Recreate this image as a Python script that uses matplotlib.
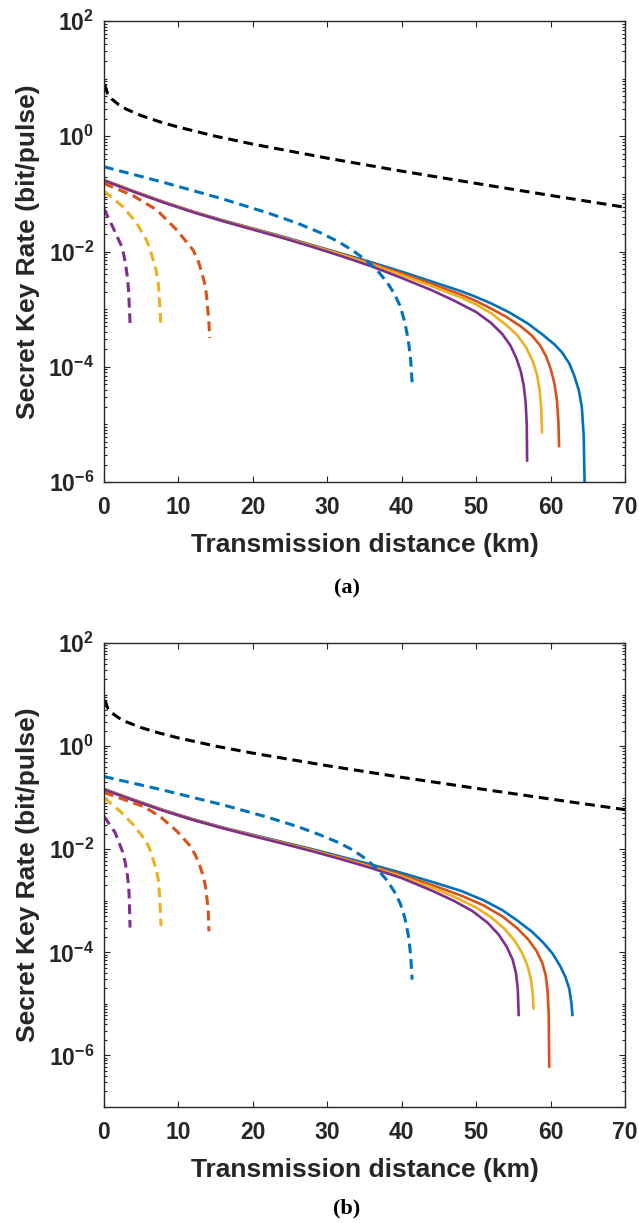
import numpy as np
import matplotlib
matplotlib.use("Agg")
from matplotlib import pyplot as plt
from matplotlib.ticker import FixedLocator, LogLocator, NullFormatter

plt.rcParams["font.family"] = ["Liberation Sans", "DejaVu Sans"]
plt.rcParams["font.weight"] = "bold"
plt.rcParams["mathtext.fontset"] = "custom"
plt.rcParams["mathtext.rm"] = "Liberation Sans:bold"
plt.rcParams["mathtext.bf"] = "Liberation Sans:bold"
plt.rcParams["mathtext.it"] = "Liberation Sans:bold:italic"

BLUE, ORANGE, YELLOW, PURPLE = "#0072BD", "#D95319", "#EDB120", "#7E2F8E"
COLORS = [BLUE, ORANGE, YELLOW, PURPLE]

# ---- data: distance (km), log10 of key rate (bit/pulse) ----
bound_x = [0.1, 0.5, 1, 2, 3, 5, 7.5, 10, 15, 20, 30, 40, 50, 60, 70]
bound_y = [7.8, 5.44, 4.47, 3.51, 2.95, 2.28, 1.78, 1.44, 1.00, 0.73, 0.417, 0.248, 0.152, 0.094, 0.0586]

# panel (a)
a_solid = [
    ([0, 4, 8, 12, 16, 20, 24, 28, 32, 36, 40, 44, 48, 50, 52, 54.5, 57, 59, 60.5, 61.5,
      62.5, 63.2, 63.8, 64.2, 64.45, 64.6],
     [-0.76, -0.955, -1.14, -1.31, -1.46, -1.60, -1.74, -1.89, -2.04, -2.19, -2.35, -2.52, -2.69,
      -2.79, -2.90, -3.06, -3.255, -3.45, -3.61, -3.745, -3.94, -4.16, -4.41, -4.70, -5.20, -6.20]),
    ([0, 4, 8, 12, 16, 20, 24, 28, 32, 36, 40, 44, 48, 50, 52, 54, 56, 57.5, 58.6, 59.4,
      60.0, 60.5, 60.85, 61.05, 61.15],
     [-0.76, -0.955, -1.14, -1.31, -1.465, -1.605, -1.75, -1.90, -2.05, -2.21, -2.38, -2.56, -2.75,
      -2.86, -2.99, -3.13, -3.30, -3.46, -3.63, -3.82, -4.03, -4.28, -4.58, -4.95, -5.40]),
    ([0, 4, 8, 12, 16, 20, 24, 28, 32, 36, 40, 44, 48, 50, 52, 54, 55.5, 56.7, 57.6, 58.2,
      58.55, 58.75, 58.85],
     [-0.765, -0.96, -1.145, -1.315, -1.47, -1.61, -1.755, -1.905, -2.06, -2.23, -2.41, -2.60, -2.80,
      -2.92, -3.07, -3.27, -3.45, -3.66, -3.90, -4.15, -4.42, -4.75, -5.16]),
    ([0, 4, 8, 12, 16, 20, 24, 28, 32, 36, 40, 44, 47, 50, 52, 53.5, 54.6, 55.4, 56.0, 56.4,
      56.65, 56.8, 56.85],
     [-0.77, -0.965, -1.15, -1.32, -1.475, -1.62, -1.765, -1.92, -2.085, -2.26, -2.46, -2.67, -2.85,
      -3.05, -3.24, -3.43, -3.63, -3.85, -4.08, -4.33, -4.62, -5.00, -5.65]),
]
a_dashed = [
    ([0, 8, 16, 22, 26, 29, 31.5, 33.5, 35.3, 36.8, 38.0, 39.0, 39.8, 40.4, 40.9, 41.2, 41.4],
     [-0.53, -0.80, -1.09, -1.33, -1.51, -1.67, -1.83, -1.99, -2.16, -2.34, -2.53, -2.73, -2.95,
      -3.22, -3.55, -3.88, -4.28]),
    ([0, 3.9, 7.1, 9.8, 12.0, 12.7, 13.3, 13.6, 13.8, 14.1, 14.2],
     [-0.82, -1.03, -1.28, -1.63, -1.98, -2.18, -2.44, -2.60, -2.79, -3.24, -3.50]),
    ([0, 2.6, 4.4, 5.7, 6.2, 6.6, 7.0, 7.3, 7.5, 7.66],
     [-0.95, -1.23, -1.51, -1.80, -1.96, -2.15, -2.33, -2.55, -2.96, -3.33]),
    ([0, 1.2, 2.4, 2.7, 2.95, 3.15, 3.3, 3.5],
     [-1.26, -1.58, -1.92, -2.08, -2.27, -2.45, -2.67, -3.24]),
]

# panel (b)
b_solid = [
    ([0, 4, 8, 12, 16, 20, 24, 28, 32, 36, 40, 44, 48, 51, 53.5, 55.5, 57.5, 59.0, 60.3,
      61.3, 62.0, 62.5, 62.8, 62.95],
     [-0.83, -1.04, -1.24, -1.42, -1.58, -1.72, -1.86, -2.00, -2.15, -2.30, -2.46, -2.63, -2.81,
      -2.99, -3.18, -3.38, -3.60, -3.81, -4.03, -4.27, -4.48, -4.70, -4.98, -5.24]),
    ([0, 4, 8, 12, 16, 20, 24, 28, 32, 36, 40, 44, 48, 51, 53.5, 55.5, 57, 58.1, 58.9,
      59.35, 59.6, 59.75, 59.82],
     [-0.835, -1.045, -1.245, -1.425, -1.585, -1.73, -1.87, -2.015, -2.17, -2.33, -2.50, -2.69,
      -2.90, -3.09, -3.30, -3.53, -3.75, -3.97, -4.21, -4.45, -4.75, -5.20, -6.24]),
    ([0, 4, 8, 12, 16, 20, 24, 28, 32, 36, 40, 44, 47, 50, 52, 53.8, 55.2, 56.2, 56.9,
      57.35, 57.6, 57.72],
     [-0.84, -1.05, -1.25, -1.43, -1.59, -1.735, -1.88, -2.025, -2.185, -2.35, -2.53, -2.74,
      -2.92, -3.13, -3.32, -3.54, -3.78, -4.02, -4.26, -4.52, -4.80, -5.11]),
    ([0, 4, 8, 12, 16, 20, 24, 28, 32, 36, 40, 44, 47, 49.5, 51.5, 53, 54.1, 54.9, 55.35,
      55.6, 55.72],
     [-0.845, -1.055, -1.255, -1.435, -1.595, -1.745, -1.89, -2.04, -2.20, -2.37, -2.56, -2.80,
      -3.00, -3.20, -3.42, -3.65, -3.89, -4.14, -4.40, -4.72, -5.24]),
]
b_dashed = [
    ([0, 8, 16, 22, 26, 29, 31.5, 33.5, 35.3, 36.8, 38.0, 39.0, 39.8, 40.4, 40.9, 41.2, 41.4],
     [-0.59, -0.855, -1.14, -1.38, -1.56, -1.72, -1.87, -2.02, -2.20, -2.40, -2.60, -2.82, -3.05,
      -3.32, -3.68, -4.05, -4.53]),
    ([0, 5.3, 7.5, 9.8, 11.6, 12.3, 12.9, 13.4, 13.7, 14.0, 14.1],
     [-0.90, -1.17, -1.36, -1.65, -1.94, -2.12, -2.33, -2.55, -2.78, -3.17, -3.59]),
    ([0, 2.15, 3.9, 5.5, 6.1, 6.6, 7.0, 7.3, 7.5, 7.66],
     [-1.00, -1.26, -1.52, -1.81, -1.98, -2.20, -2.39, -2.59, -2.97, -3.49]),
    ([0, 1.5, 2.55, 2.85, 3.1, 3.3, 3.4, 3.5],
     [-1.36, -1.68, -2.07, -2.26, -2.46, -2.70, -2.97, -3.52]),
]

x_ticks = [0, 10, 20, 30, 40, 50, 60, 70]
y_ticks = [1e-6, 1e-4, 1e-2, 1e0, 1e2]

DASH = (3.2, 1.9)


def draw(ax, solid, dashed, ylim):
    for (x, y), c in zip(solid, COLORS):
        ax.plot(x, np.power(10.0, y), color=c, lw=1.9, solid_capstyle="butt",
                solid_joinstyle="round")
    for (x, y), c in zip(dashed, COLORS):
        ax.plot(x, np.power(10.0, y), color=c, lw=2.2, dashes=DASH)
    ax.plot(bound_x, bound_y, color="black", lw=2.2, dashes=DASH)

    ax.set_yscale("log")
    ax.set_xlim(0, 70)
    ax.set_ylim(*ylim)
    ax.xaxis.set_major_locator(FixedLocator(x_ticks))
    ax.yaxis.set_major_locator(FixedLocator(y_ticks))
    ax.yaxis.set_minor_locator(LogLocator(base=10, subs=np.arange(1, 10), numticks=30))
    ax.yaxis.set_minor_formatter(NullFormatter())
    ax.tick_params(which="both", direction="in", top=True, right=True,
                   labelsize=16.5, colors="#262626", width=0.8)
    ax.tick_params(which="major", length=4)
    ax.tick_params(axis="x", which="major", pad=10)
    ax.tick_params(axis="y", which="major", pad=7)
    ax.tick_params(which="minor", length=2)
    for s in ax.spines.values():
        s.set_color("#262626")
        s.set_linewidth(1.0)
    ax.set_xlabel("Transmission distance (km)", fontsize=19, fontweight="bold", color="#262626")
    ax.set_ylabel("Secret Key Rate (bit/pulse)", fontsize=19, fontweight="bold", color="#262626")
    ax.xaxis.set_label_coords(0.5, -0.11)
    ax.yaxis.set_label_coords(-0.122, 0.5)


fig = plt.figure(figsize=(6.39, 12.23), dpi=100)
ax_a = fig.add_axes([104 / 639, 1 - 482 / 1223, 521 / 639, 461 / 1223])
ax_b = fig.add_axes([104 / 639, 1 - 1107 / 1223, 521 / 639, 464 / 1223])

draw(ax_a, a_solid, a_dashed, (1e-6, 1e2))
draw(ax_b, b_solid, b_dashed, (1e-7, 1e2))

fig.text(347 / 639, 1 - 588 / 1223, "(a)", ha="center", va="center",
         fontsize=16, family="Liberation Serif", fontweight="bold")
fig.text(347 / 639, 1 - 1208 / 1223, "(b)", ha="center", va="center",
         fontsize=16, family="Liberation Serif", fontweight="bold")

fig.savefig("out.png", dpi=100, facecolor="white")
